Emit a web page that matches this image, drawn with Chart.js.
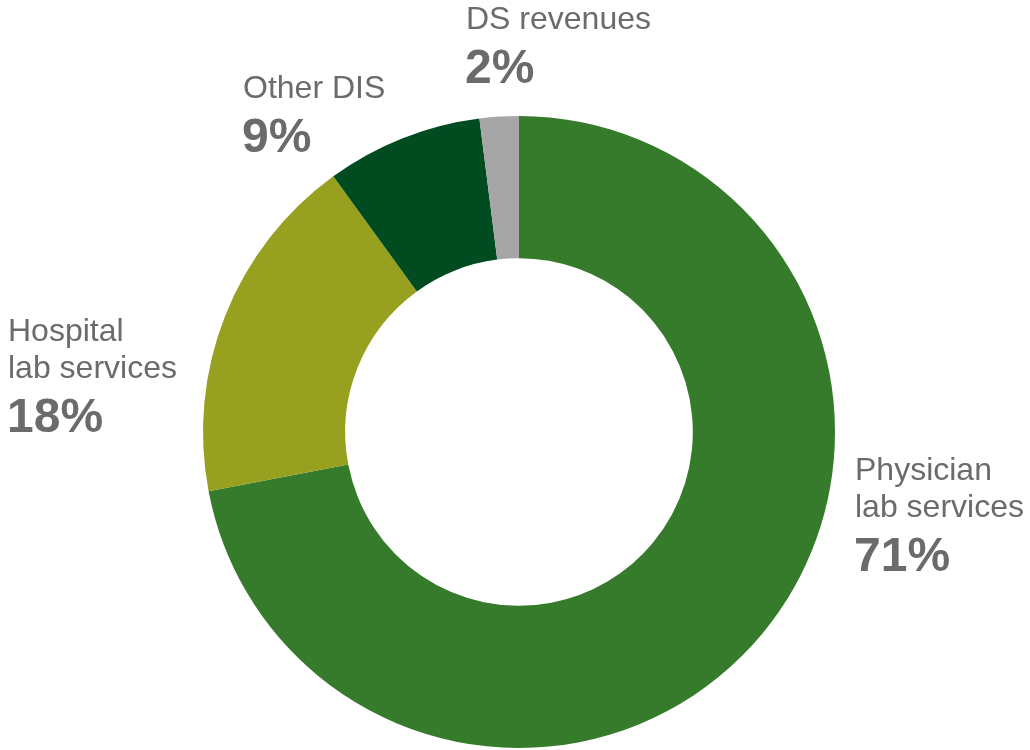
<!DOCTYPE html>
<html>
<head>
<meta charset="utf-8">
<script src="https://cdn.jsdelivr.net/npm/chart.js@4.4.0/dist/chart.umd.min.js"></script>
<style>
  html, body { margin: 0; padding: 0; background: #ffffff; }
  #wrap { width: 1030px; height: 750px; position: relative; }
</style>
</head>
<body>
<div id="wrap"><canvas id="c" width="1030" height="750"></canvas></div>
<script>
// Data
const categories = ["Physician lab services", "Hospital lab services", "Other DIS", "DS revenues"];
const shares = [72, 18, 8, 2];
const labelNames = [["Physician", "lab services"], ["Hospital", "lab services"], ["Other DIS"], ["DS revenues"]];
const labelPercents = ["71%", "18%", "9%", "2%"];
const colors = ["#367A2B", "#98A020", "#004B20", "#A6A6A6"];

const labelPlugin = {
  id: 'outerLabels',
  afterDatasetsDraw(chart, args, opts) {
    const ctx = chart.ctx;
    const meta = chart.getDatasetMeta(0);
    const arc = meta.data[0];
    const cx = arc.x, cy = arc.y;
    ctx.save();
    ctx.fillStyle = opts.color;
    ctx.textAlign = 'left';
    ctx.textBaseline = 'alphabetic';
    meta.data.forEach((el, i) => {
      const off = opts.offsets[i];
      let x = cx + off[0];
      let y = cy + off[1];
      ctx.font = opts.nameFont;
      labelNames[i].forEach((line, j) => {
        ctx.fillText(line, x, y + j * opts.lineGap);
      });
      const lastY = y + (labelNames[i].length - 1) * opts.lineGap;
      ctx.font = opts.pctFont;
      ctx.fillText(labelPercents[i], x - 1, lastY + opts.pctGap);
    });
    ctx.restore();
  }
};

new Chart(document.getElementById('c'), {
  type: 'doughnut',
  data: {
    labels: categories,
    datasets: [{
      data: shares,
      backgroundColor: colors,
      borderWidth: 0,
      hoverOffset: 0
    }]
  },
  options: {
    responsive: false,
    animation: false,
    cutout: '55%',
    rotation: 0,
    layout: { padding: { top: 116, bottom: 2, left: 8, right: 0 } },
    plugins: {
      legend: { display: false },
      tooltip: { enabled: false },
      outerLabels: {
        color: '#6B6B6B',
        nameFont: '32px "Liberation Sans", Arial, sans-serif',
        pctFont: 'bold 48px "Liberation Sans", Arial, sans-serif',
        lineGap: 37,
        pctGap: 54,
        offsets: [[336, 48], [-511, -91], [-276, -334], [-53, -403]]
      }
    }
  },
  plugins: [labelPlugin]
});
</script>
</body>
</html>
